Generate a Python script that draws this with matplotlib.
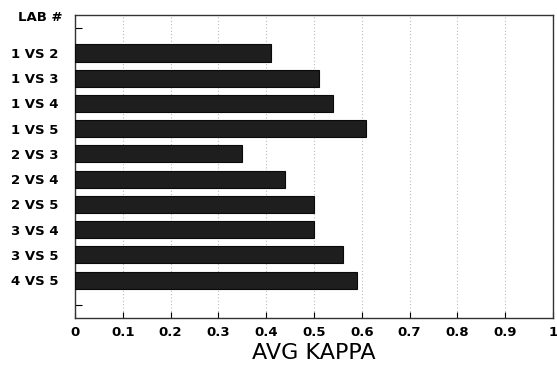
import matplotlib
matplotlib.use('Agg')
import matplotlib.pyplot as plt
import numpy as np

# data
labs = ['1 VS 2', '1 VS 3', '1 VS 4', '1 VS 5', '2 VS 3',
        '2 VS 4', '2 VS 5', '3 VS 4', '3 VS 5', '4 VS 5']
kappa = [0.41, 0.51, 0.54, 0.61, 0.35, 0.44, 0.50, 0.50, 0.56, 0.59]
xticks = [0, 0.1, 0.2, 0.3, 0.4, 0.5, 0.6, 0.7, 0.8, 0.9, 1]
xtick_labels = ['0', '0.1', '0.2', '0.3', '0.4', '0.5', '0.6', '0.7', '0.8', '0.9', '1']

plt.rcParams['font.family'] = ['DejaVu Sans']

fig = plt.figure(figsize=(5.57, 3.68), dpi=100)
ax = fig.add_axes([0.1346, 0.136, 0.858, 0.823])

ypos = np.arange(1, len(labs) + 1)
ax.barh(ypos, kappa, height=0.68, color='#1e1e1e', edgecolor='#0a0a0a', linewidth=0.8, zorder=3)

ax.set_xlim(0, 1)
ax.set_ylim(len(labs) + 1.5, -0.5)

ax.set_xticks(xticks)
ax.set_xticklabels(xtick_labels, fontsize=9.5, fontweight='bold')
ax.xaxis.grid(True, linestyle=(0, (1, 2)), color='#bbbbbb', linewidth=0.8, zorder=0)

# bar rows get labels, the empty rows above and below get just a tick
ax.set_yticks([0] + list(ypos) + [len(labs) + 1])
ax.set_yticklabels([''] + labs + [''], fontsize=9.5, fontweight='bold')
ax.tick_params(axis='y', direction='in', length=5, pad=12)
ax.tick_params(axis='x', direction='in', length=4, pad=6)

for s in ax.spines.values():
    s.set_linewidth(1.0)
    s.set_color('#333333')

ax.text(-0.027, -0.4, 'LAB #', transform=ax.transData, ha='right', va='center',
        fontsize=9.5, fontweight='bold')
ax.set_xlabel('AVG KAPPA', fontsize=16, labelpad=3)

fig.savefig('out.png', dpi=100)
